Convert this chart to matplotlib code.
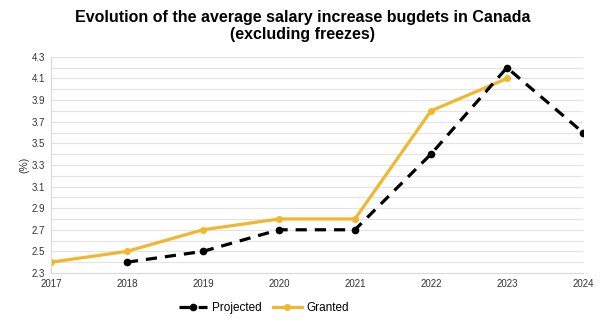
import numpy as np
import matplotlib
matplotlib.use('Agg')
import matplotlib.pyplot as plt

plt.rcParams['font.family'] = ['Liberation Sans', 'DejaVu Sans']

years_projected = [2018, 2019, 2020, 2021, 2022, 2023, 2024]
projected = [2.4, 2.5, 2.7, 2.7, 3.4, 4.2, 3.6]
years_granted = [2017, 2018, 2019, 2020, 2021, 2022, 2023]
granted = [2.4, 2.5, 2.7, 2.8, 2.8, 3.8, 4.1]
year_ticks = [2017, 2018, 2019, 2020, 2021, 2022, 2023, 2024]
y_ticks = [2.3, 2.5, 2.7, 2.9, 3.1, 3.3, 3.5, 3.7, 3.9, 4.1, 4.3]

fig = plt.figure(figsize=(6.06, 3.25), dpi=100)
ax = fig.add_axes([0.084, 0.160, 0.878, 0.665])

# grille fine tous les 0.1
for v in np.arange(2.3, 4.31, 0.1):
    ax.axhline(v, color='#e3e3e3', lw=0.8, zorder=0)

ax.plot(years_projected, projected, color='black', lw=2.3, ls=(0, (3.5, 2.5)),
        marker='o', ms=4.5, label='Projected', zorder=3)
ax.plot(years_granted, granted, color='#F0B72F', lw=2.3,
        marker='o', ms=4, label='Granted', zorder=2)

ax.set_xlim(2017, 2024)
ax.set_ylim(2.3, 4.3)
ax.set_xticks(year_ticks)
ax.set_xticklabels([str(y) for y in year_ticks])
ax.set_yticks(y_ticks)
ax.set_yticklabels([f'{v:.1f}' for v in y_ticks])
ax.tick_params(length=0, labelsize=7, colors='#333333', pad=4)
ax.set_ylabel('(%)', fontsize=7.5, color='#333333', labelpad=2)

for s in ['top', 'right']:
    ax.spines[s].set_visible(False)
ax.spines['left'].set_color('#d9d9d9')
ax.spines['bottom'].set_color('#d9d9d9')

fig.suptitle('Evolution of the average salary increase bugdets in Canada\n(excluding freezes)',
             fontsize=11.5, fontweight='bold', y=0.97, linespacing=1.2)

ax.legend(loc='upper center', bbox_to_anchor=(0.40, -0.085), ncol=2, frameon=False,
          fontsize=8.5, handlelength=2.4, columnspacing=1.0, handletextpad=0.4)

fig.savefig('out.png', dpi=100)
